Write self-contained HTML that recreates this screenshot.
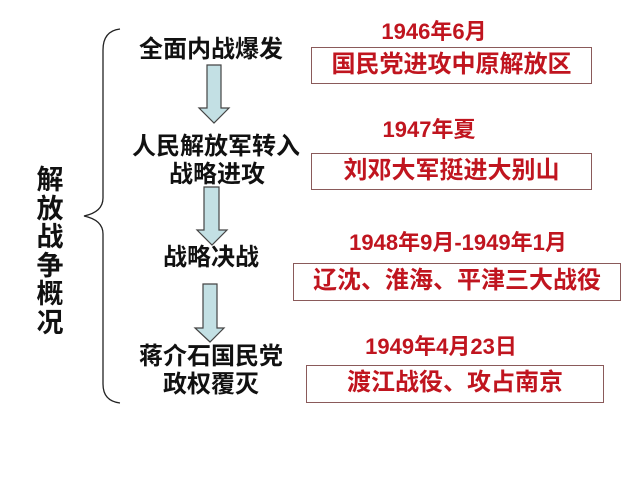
<!DOCTYPE html>
<html><head><meta charset="utf-8"><style>
body{margin:0;width:640px;height:480px;background:#fff;position:relative;overflow:hidden;font-family:"Liberation Sans","Noto Sans CJK SC",sans-serif;}
.t{position:absolute;font-weight:bold;white-space:nowrap;text-align:center;transform:translateX(-50%);line-height:1;}
.k{color:#111;font-size:24px;}
.d{color:#c0151f;font-size:22px;}
.b{position:absolute;border:1.5px solid #8a5a5a;color:#c0151f;font-weight:bold;font-size:24px;text-align:center;box-sizing:border-box;line-height:34px;white-space:nowrap;}
</style></head><body>
<svg width="640" height="480" style="position:absolute;left:0;top:0">
<path d="M120,29 Q103,31 103,50 L103,198 Q103,212 84,216 Q103,220 103,234 L103,384 Q103,401 120,403" fill="none" stroke="#222" stroke-width="1.3"/>
<g fill="#c3e0e4" stroke="#444" stroke-width="1.2">
<path d="M207,65 L221,65 L221,108 L229,108 L214,123 L199,108 L207,108 Z"/>
<path d="M204,187 L219,187 L219,230 L227,230 L212,245 L197,230 L204,230 Z"/>
<path d="M203,284 L217,284 L217,328 L224,328 L210,342 L195,328 L203,328 Z"/>
</g>
</svg>
<div style="position:absolute;left:35px;top:166px;width:30px;font-size:27px;font-weight:bold;line-height:28.5px;color:#111;text-align:center;">解<br>放<br>战<br>争<br>概<br>况</div>
<div class="t k" style="left:211px;top:38px">全面内战爆发</div>
<div class="t k" style="left:216px;top:135px">人民解放军转入</div>
<div class="t k" style="left:217px;top:163px">战略进攻</div>
<div class="t k" style="left:211px;top:246px">战略决战</div>
<div class="t k" style="left:211px;top:345px">蒋介石国民党</div>
<div class="t k" style="left:211px;top:373px">政权覆灭</div>
<div class="t d" style="left:434px;top:21px">1946年6月</div>
<div class="t d" style="left:429px;top:119px">1947年夏</div>
<div class="t d" style="left:458px;top:232px">1948年9月-1949年1月</div>
<div class="t d" style="left:441px;top:336px">1949年4月23日</div>
<div class="b" style="left:311px;top:47px;width:281px;height:37px">国民党进攻中原解放区</div>
<div class="b" style="left:311px;top:153px;width:281px;height:37px">刘邓大军挺进大别山</div>
<div class="b" style="left:293px;top:263px;width:328px;height:38px">辽沈、淮海、平津三大战役</div>
<div class="b" style="left:306px;top:365px;width:298px;height:38px">渡江战役、攻占南京</div>
</body></html>
